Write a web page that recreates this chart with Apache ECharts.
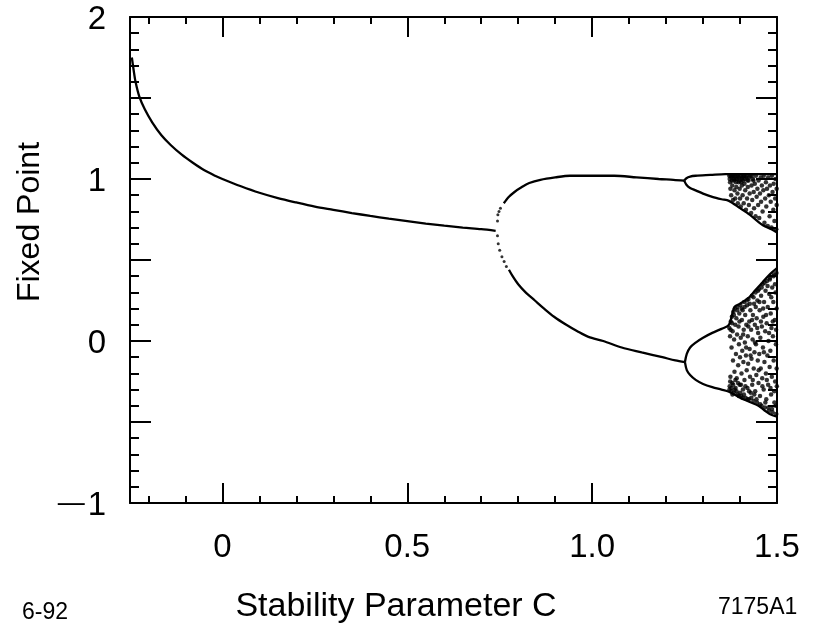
<!DOCTYPE html>
<html><head><meta charset="utf-8">
<script src="https://cdn.jsdelivr.net/npm/echarts@6/dist/echarts.min.js"></script>
<style>html,body{margin:0;padding:0;background:#fff}#c{width:813px;height:636px}</style>
</head><body><div id="c"></div>
<script>
// ---- tick values and labels ----
const xMajorTicks = [0, 0.5, 1.0, 1.5];
const xMajorLabels = ['0', '0.5', '1.0', '1.5'];
const xMinorTicks = [-0.2, -0.1, 0.1, 0.2, 0.3, 0.4, 0.6, 0.7, 0.8, 0.9, 1.1, 1.2, 1.3, 1.4];
const yLabelValues = [-1, 0, 1, 2];
const yLabels = ['{d|\u2014}1', '0', '1', '2'];

// ---- data: [C, fixed point] ----
const period1 = [[-0.245,1.75],[-0.24,1.67],[-0.235,1.60],[-0.225,1.51],[-0.21,1.43],[-0.19,1.35],[-0.165,1.27],[-0.14,1.21],[-0.11,1.15],[-0.08,1.10],[-0.05,1.055],[-0.02,1.02],[0.0,1.0],[0.05,0.955],[0.10,0.915],[0.15,0.882],[0.20,0.855],[0.25,0.83],[0.30,0.81],[0.35,0.79],[0.40,0.772],[0.45,0.755],[0.50,0.74],[0.55,0.725],[0.60,0.712],[0.65,0.70],[0.70,0.69],[0.739,0.68]];
const bifurcationDots = [[0.744,0.74],[0.745,0.78],[0.748,0.80],[0.752,0.82],[0.744,0.65],[0.746,0.60],[0.750,0.56],[0.756,0.52],[0.762,0.49],[0.768,0.46]];
const period2Upper = [[0.761,0.85],[0.775,0.89],[0.79,0.92],[0.81,0.95],[0.83,0.975],[0.86,0.995],[0.90,1.01],[0.94,1.02],[1.0,1.02],[1.06,1.02],[1.12,1.01],[1.18,1.0],[1.22,0.995],[1.249,0.99]];
const period2Lower = [[0.775,0.44],[0.785,0.40],[0.80,0.35],[0.82,0.30],[0.845,0.25],[0.87,0.20],[0.897,0.15],[0.93,0.10],[0.96,0.06],[0.99,0.025],[1.03,0.0],[1.08,-0.04],[1.134,-0.07],[1.19,-0.10],[1.225,-0.12],[1.251,-0.13]];
const branchUU = [[1.249,0.99],[1.255,1.005],[1.265,1.015],[1.28,1.02],[1.32,1.025],[1.36,1.03],[1.42,1.03],[1.46,1.03],[1.50,1.03]];
const branchUL = [[1.249,0.99],[1.255,0.965],[1.265,0.945],[1.28,0.93],[1.30,0.91],[1.325,0.89],[1.35,0.875],[1.37,0.865],[1.40,0.82],[1.426,0.78],[1.461,0.716],[1.485,0.69],[1.50,0.67]];
const branchLU = [[1.251,-0.13],[1.256,-0.08],[1.265,-0.04],[1.28,-0.01],[1.30,0.02],[1.325,0.05],[1.35,0.075],[1.37,0.10],[1.385,0.21],[1.40,0.23],[1.425,0.27],[1.44,0.31],[1.46,0.36],[1.48,0.41],[1.50,0.45]];
const branchLL = [[1.251,-0.13],[1.256,-0.18],[1.265,-0.21],[1.28,-0.24],[1.30,-0.265],[1.325,-0.285],[1.35,-0.30],[1.37,-0.313],[1.40,-0.35],[1.425,-0.375],[1.45,-0.40],[1.465,-0.426],[1.48,-0.45],[1.50,-0.467]];
const chaosUpper = [[1.371,1.02],[1.373,0.98],[1.374,0.94],[1.376,0.90],[1.377,1.01],[1.379,0.96],[1.381,0.87],[1.382,1.02],[1.384,0.99],[1.385,0.93],[1.387,0.88],[1.388,1.00],[1.390,0.95],[1.391,1.02],[1.393,0.91],[1.394,0.85],[1.396,0.98],[1.397,1.01],[1.399,0.94],[1.400,0.88],[1.402,0.83],[1.404,1.00],[1.405,0.96],[1.407,0.90],[1.409,1.02],[1.410,0.85],[1.412,0.97],[1.414,0.93],[1.416,0.81],[1.417,1.01],[1.419,0.88],[1.421,0.95],[1.423,0.99],[1.424,0.84],[1.426,0.91],[1.428,1.02],[1.430,0.79],[1.431,0.96],[1.433,0.87],[1.435,1.00],[1.437,0.92],[1.438,0.82],[1.440,0.97],[1.442,0.77],[1.443,1.02],[1.445,0.89],[1.447,0.94],[1.449,0.84],[1.450,0.99],[1.452,0.76],[1.454,0.91],[1.456,1.01],[1.457,0.86],[1.459,0.96],[1.461,0.80],[1.463,0.93],[1.464,1.02],[1.466,0.73],[1.468,0.88],[1.470,0.98],[1.471,0.83],[1.473,0.94],[1.475,0.71],[1.476,1.01],[1.478,0.90],[1.480,0.77],[1.481,0.96],[1.483,0.86],[1.485,0.70],[1.486,1.02],[1.488,0.92],[1.490,0.81],[1.491,0.97],[1.493,0.74],[1.495,0.88],[1.496,1.00],[1.498,0.69],[1.499,0.94],[1.499,0.84],
[1.372,1.00],[1.375,1.02],[1.378,0.99],[1.380,1.02],[1.383,1.00],[1.386,1.02],[1.389,0.98],[1.392,1.00],[1.395,1.02],[1.398,0.99],[1.401,1.02],[1.403,0.98],[1.406,1.01],[1.408,0.99],[1.411,1.02],[1.413,1.00],[1.418,1.02],[1.420,0.99],[1.425,1.01],[1.432,1.02],[1.436,0.99]];
const chaosLower = [[1.371,0.08],[1.372,-0.28],[1.373,0.03],[1.374,-0.22],[1.375,0.12],[1.376,-0.31],[1.377,-0.04],[1.378,0.15],[1.379,-0.26],[1.380,0.06],
[1.381,-0.12],[1.382,0.18],[1.383,-0.32],[1.384,0.01],[1.385,-0.19],[1.386,0.20],[1.387,0.10],[1.388,-0.29],[1.389,-0.08],[1.390,0.14],
[1.391,-0.23],[1.392,0.04],[1.393,0.21],[1.394,-0.33],[1.395,-0.15],[1.396,0.09],[1.397,-0.02],[1.398,0.17],[1.399,-0.27],[1.400,-0.10],
[1.401,0.22],[1.402,0.02],[1.403,-0.34],[1.404,-0.20],[1.405,0.13],[1.406,-0.06],[1.407,0.19],[1.408,-0.30],[1.409,-0.13],[1.410,0.07],
[1.411,0.24],[1.412,-0.24],[1.413,-0.01],[1.414,0.16],[1.415,-0.35],[1.416,-0.09],[1.417,0.10],[1.418,-0.18],[1.419,0.22],[1.420,-0.29],
[1.421,0.03],[1.422,-0.14],[1.423,0.26],[1.424,-0.36],[1.425,0.12],[1.426,-0.05],[1.427,-0.22],[1.428,0.19],[1.429,-0.32],[1.430,0.07],
[1.431,-0.11],[1.432,0.28],[1.433,-0.27],[1.434,0.01],[1.435,0.16],[1.436,-0.37],[1.437,-0.17],[1.438,0.23],[1.439,-0.07],[1.440,0.10],
[1.441,-0.31],[1.442,0.30],[1.443,-0.02],[1.444,-0.21],[1.445,0.14],[1.446,-0.38],[1.447,0.25],[1.448,-0.12],[1.449,0.05],[1.450,-0.26],
[1.451,0.32],[1.452,-0.08],[1.453,0.19],[1.454,-0.34],[1.455,0.02],[1.456,-0.17],[1.457,0.28],[1.458,-0.40],[1.459,0.09],[1.460,-0.23],
[1.461,0.35],[1.462,-0.04],[1.463,0.15],[1.464,-0.30],[1.465,0.24],[1.466,-0.13],[1.467,-0.41],[1.468,0.06],[1.469,0.31],[1.470,-0.20],
[1.471,-0.36],[1.472,0.11],[1.473,0.37],[1.474,-0.09],[1.475,0.21],[1.476,-0.27],[1.477,0.00],[1.478,-0.43],[1.479,0.29],[1.480,-0.16],
[1.481,0.39],[1.482,-0.06],[1.483,0.17],[1.484,-0.33],[1.485,0.08],[1.486,-0.22],[1.487,0.33],[1.488,-0.44],[1.489,0.03],[1.490,0.24],
[1.491,-0.12],[1.492,0.41],[1.493,-0.38],[1.494,0.13],[1.495,-0.25],[1.496,0.30],[1.497,-0.02],[1.498,-0.45],[1.499,0.20],[1.499,-0.17],
[1.3715,-0.30],[1.3735,-0.25],[1.3745,0.07],[1.3765,-0.29],[1.3785,0.11],[1.3795,-0.33],[1.3815,-0.27],[1.3835,0.16],[1.3855,-0.30],[1.3875,-0.24],[1.3905,-0.31],[1.3925,0.19],[1.3945,-0.26],[1.3965,-0.34],[1.3985,0.12],[1.4005,-0.32],[1.4025,-0.27],[1.4045,0.20],[1.4065,-0.35],[1.4085,0.04],[1.4105,-0.33],[1.4125,0.21],[1.4145,-0.28],[1.4165,-0.04],[1.4185,0.25],[1.4205,-0.36],[1.4225,0.09],[1.4245,-0.31],[1.4265,0.23],[1.4285,-0.09],[1.4305,-0.35],[1.4325,0.13],[1.4345,-0.24],[1.4365,0.27],[1.4385,-0.33],[1.4405,-0.01],[1.4425,0.21],[1.4445,-0.36],[1.4465,0.08],[1.4485,0.31],[1.4505,-0.18],[1.4525,0.24],[1.4545,-0.39],[1.4565,0.12],[1.4585,0.33],[1.4605,-0.28],[1.4625,0.20],[1.4645,-0.07],[1.4665,0.36],[1.4685,-0.38],[1.4705,0.16],[1.4725,-0.24],[1.4745,0.34],[1.4765,-0.41],[1.4785,0.05],[1.4805,0.38],[1.4825,-0.29],[1.4845,0.27],[1.4865,-0.42],[1.4885,0.12],[1.4905,0.40],[1.4925,-0.31],[1.4945,0.35],[1.4965,-0.40],[1.4975,0.07],[1.4985,0.42],[1.4995,-0.28]];

// ---- chart ----
const FONT = 'Liberation Sans, Arial, Helvetica, sans-serif';
const chart = echarts.init(document.getElementById('c'), null, {renderer: 'canvas'});
const axisLineStyle = {show: true, onZero: false, lineStyle: {color: '#000', width: 2}};
function xAxisDef(pos, major, withLine, withLabels) {
  return {
    type: 'value', position: pos, min: -0.25, max: 1.5,
    axisLine: withLine ? axisLineStyle : {show: false, onZero: false},
    axisTick: {show: true, inside: true, length: major ? 20 : 7,
      customValues: major ? xMajorTicks : xMinorTicks,
      lineStyle: {color: '#000', width: 2}},
    axisLabel: withLabels ? {show: true, customValues: xMajorTicks, margin: 28,
      fontSize: 33, color: '#000', fontFamily: FONT,
      formatter: v => xMajorLabels[xMajorTicks.findIndex(t => Math.abs(t - v) < 1e-9)]} : {show: false},
    splitLine: {show: false}
  };
}
function yAxisDef(pos, withLabels) {
  return {
    type: 'value', position: pos, min: -1, max: 2, interval: 0.5,
    axisLine: axisLineStyle,
    axisTick: {show: true, inside: true, length: 21, lineStyle: {color: '#000', width: 2}},
    minorTick: {show: true, splitNumber: 5, length: 9, lineStyle: {color: '#000', width: 2}},
    axisLabel: withLabels ? {show: true, customValues: yLabelValues, margin: 24,
      fontSize: 33, color: '#000', fontFamily: FONT, padding: [6, 0, 0, 0],
      rich: {d: {fontSize: 27, fontFamily: FONT, color: '#000', padding: [0, 3, 5, 0]}},
      formatter: v => yLabels[yLabelValues.findIndex(t => Math.abs(t - v) < 1e-9)]} : {show: false},
    splitLine: {show: false}, minorSplitLine: {show: false}
  };
}
function lineSeries(data) {
  return {type: 'line', data: data, xAxisIndex: 0, yAxisIndex: 0, smooth: 0.3,
    showSymbol: false, symbol: 'none', lineStyle: {color: '#000', width: 2.3}, silent: true, animation: false};
}
function dotSeries(data, size) {
  return {type: 'scatter', data: data, xAxisIndex: 0, yAxisIndex: 0, symbol: 'circle',
    symbolSize: size, itemStyle: {color: '#000'}, silent: true, animation: false};
}
chart.setOption({
  animation: false,
  backgroundColor: '#fff',
  grid: {left: 130, right: 36, top: 17, bottom: 133, containLabel: false},
  xAxis: [xAxisDef('bottom', true, true, true), xAxisDef('bottom', false, false, false),
          xAxisDef('top', true, true, false), xAxisDef('top', false, false, false)],
  yAxis: [yAxisDef('left', true), yAxisDef('right', false)],
  series: [
    lineSeries(period1), dotSeries(bifurcationDots, 3),
    lineSeries(period2Upper), lineSeries(period2Lower),
    lineSeries(branchUU), lineSeries(branchUL), lineSeries(branchLU), lineSeries(branchLL),
    dotSeries(chaosUpper, 4.5), dotSeries(chaosLower, 4.5)
  ],
  graphic: [
    {type: 'text', x: 30, y: 222, rotation: Math.PI / 2,
      style: {text: 'Fixed Point', font: '32px ' + FONT, fill: '#000', align: 'center', verticalAlign: 'middle'}},
    {type: 'text', x: 396, y: 607,
      style: {text: 'Stability Parameter C', font: '34px ' + FONT, fill: '#000', align: 'center', verticalAlign: 'middle'}},
    {type: 'text', x: 22, y: 613,
      style: {text: '6-92', font: '23px ' + FONT, fill: '#000', align: 'left', verticalAlign: 'middle'}},
    {type: 'text', x: 718, y: 608,
      style: {text: '7175A1', font: '23px ' + FONT, fill: '#000', align: 'left', verticalAlign: 'middle'}}
  ]
});
</script></body></html>
